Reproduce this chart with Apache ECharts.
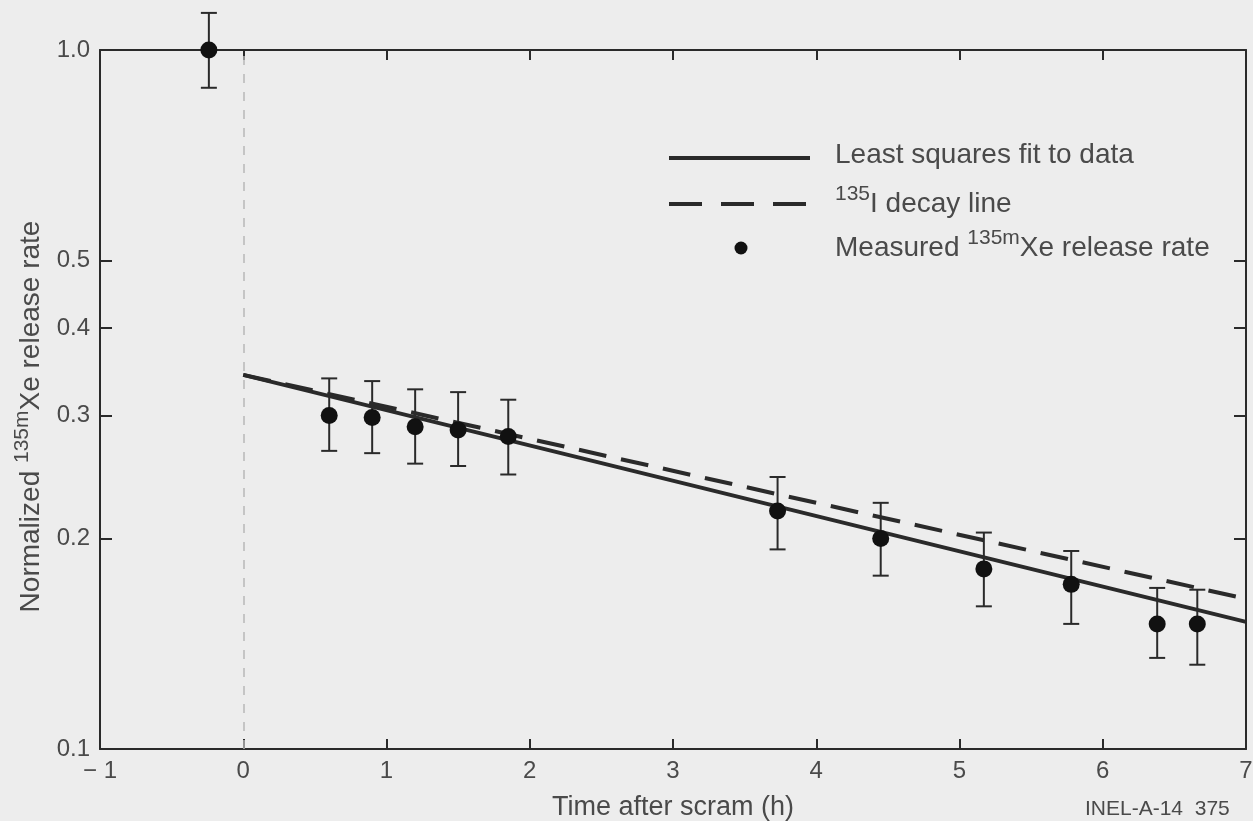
<!DOCTYPE html>
<html>
<head>
<meta charset="utf-8">
<script src="https://cdn.jsdelivr.net/npm/echarts@6/dist/echarts.min.js"></script>
<style>
  html, body { margin: 0; padding: 0; background: #ededed; }
  #main { width: 1253px; height: 821px; }
</style>
</head>
<body>
<div id="main"></div>
<script>
// measured release rate, time after scram (h)
const times = [-0.24, 0.6, 0.9, 1.2, 1.5, 1.85, 3.73, 4.45, 5.17, 5.78, 6.38, 6.66];
const rates = [1.0, 0.300, 0.298, 0.289, 0.286, 0.280, 0.219, 0.200, 0.181, 0.172, 0.151, 0.151];
const upper = [1.13, 0.339, 0.336, 0.327, 0.324, 0.316, 0.245, 0.225, 0.204, 0.192, 0.170, 0.169];
const lower = [0.883, 0.267, 0.265, 0.256, 0.254, 0.247, 0.193, 0.177, 0.160, 0.151, 0.135, 0.132];

// lines (end points)
const fitLine = [[0, 0.343], [7, 0.152]];
const decayLine = [[0, 0.343], [7, 0.164]];

const yTicks = [0.1, 0.2, 0.3, 0.4, 0.5, 1.0];
const yTicksRight = [0.2, 0.3, 0.4, 0.5];

const font = 'Liberation Sans, Arial, Helvetica, sans-serif';
const ink = '#2a2a2a';
const textCol = '#4a4a4a';

let myChart = echarts.init(document.getElementById('main'));

let points = times.map((t, i) => [t, rates[i]]);
let bars = times.map((t, i) => [t, lower[i], upper[i]]);

const supRich = (n, s) => ({
  n: { fontSize: n, color: textCol, fill: textCol, fontFamily: font, lineHeight: 34, verticalAlign: 'bottom' },
  s: { fontSize: s, color: textCol, fill: textCol, fontFamily: font, lineHeight: 34, verticalAlign: 'top' }
});

let option = {
  backgroundColor: '#ededed',
  animation: false,
  textStyle: { fontFamily: font },
  grid: { left: 100, top: 50, right: 7, bottom: 72, containLabel: false, outerBoundsMode: 'none' },
  xAxis: [
    {
      type: 'value', min: -1, max: 7, interval: 1,
      name: 'Time after scram (h)', nameLocation: 'middle', nameGap: 45,
      nameTextStyle: { fontSize: 27, color: textCol, fontFamily: font },
      axisLine: { onZero: false, lineStyle: { color: ink, width: 2 } },
      axisTick: { inside: true, length: 10, lineStyle: { color: ink, width: 2 } },
      axisLabel: {
        fontSize: 24, color: textCol, margin: 10,
        formatter: v => v < 0 ? '\u2212 ' + (-v) : String(v)
      },
      splitLine: { show: false }
    },
    {
      type: 'value', min: -1, max: 7, interval: 1, position: 'top',
      axisLine: { show: true, onZero: false, lineStyle: { color: ink, width: 2 } },
      axisTick: { show: true, inside: true, length: 10, lineStyle: { color: ink, width: 2 } },
      axisLabel: { show: false },
      splitLine: { show: false }
    }
  ],
  yAxis: [
    {
      type: 'log', logBase: 10, min: 0.1, max: 1,
      name: '{n|Normalized }{s|135m}{n|Xe release rate}',
      nameLocation: 'middle', nameGap: 50, nameRotate: 90,
      nameTextStyle: { color: textCol, padding: [0, 34, 0, 0], rich: supRich(28, 21) },
      axisLine: { show: true, onZero: false, lineStyle: { color: ink, width: 2 } },
      axisTick: { show: true, inside: true, length: 12, customValues: yTicks, lineStyle: { color: ink, width: 2 } },
      axisLabel: {
        fontSize: 24, color: textCol, margin: 10, customValues: yTicks,
        formatter: v => Number(v).toFixed(1)
      },
      splitLine: { show: false }
    },
    {
      type: 'log', logBase: 10, min: 0.1, max: 1, position: 'right',
      axisLine: { show: true, onZero: false, lineStyle: { color: ink, width: 2 } },
      axisTick: { show: true, inside: true, length: 12, customValues: yTicksRight, lineStyle: { color: ink, width: 2 } },
      axisLabel: { show: false },
      splitLine: { show: false }
    }
  ],
  series: [
    {
      name: 'Least squares fit to data',
      type: 'line', data: fitLine, symbol: 'none',
      lineStyle: { color: ink, width: 4 },
      markLine: {
        silent: true, symbol: 'none', label: { show: false },
        lineStyle: { color: '#b8b8b8', type: [9, 9], width: 1.5 },
        data: [{ xAxis: 0 }]
      }
    },
    {
      name: '135I decay line',
      type: 'line', data: decayLine, symbol: 'none',
      lineStyle: { color: ink, width: 4, type: [28, 15] }
    },
    {
      name: 'error',
      type: 'custom', data: bars, clip: false,
      renderItem: (params, api) => {
        const x = api.value(0);
        const lo = api.coord([x, api.value(1)]);
        const hi = api.coord([x, api.value(2)]);
        const w = 8;
        const st = { stroke: ink, lineWidth: 2 };
        return {
          type: 'group',
          children: [
            { type: 'line', shape: { x1: lo[0], y1: lo[1], x2: hi[0], y2: hi[1] }, style: st },
            { type: 'line', shape: { x1: lo[0] - w, y1: lo[1], x2: lo[0] + w, y2: lo[1] }, style: st },
            { type: 'line', shape: { x1: hi[0] - w, y1: hi[1], x2: hi[0] + w, y2: hi[1] }, style: st }
          ]
        };
      },
      z: 3
    },
    {
      name: 'Measured release rate',
      type: 'scatter', data: points, clip: false,
      symbol: 'circle', symbolSize: 17,
      itemStyle: { color: '#111', opacity: 1 },
      z: 4
    }
  ],
  graphic: [
    { type: 'line', shape: { x1: 669, y1: 158, x2: 810, y2: 158 }, style: { stroke: ink, lineWidth: 4 } },
    { type: 'line', shape: { x1: 669, y1: 204, x2: 810, y2: 204 }, style: { stroke: ink, lineWidth: 4, lineDash: [33, 19] } },
    { type: 'circle', shape: { cx: 741, cy: 248, r: 6.5 }, style: { fill: '#111' } },
    {
      type: 'text', left: 835, top: 141,
      style: { text: 'Least squares fit to data', fontSize: 28, fill: textCol, fontFamily: font }
    },
    {
      type: 'text', left: 835, top: 184,
      style: { text: '{s|135}{n|I decay line}', fill: textCol, rich: supRich(28, 21) }
    },
    {
      type: 'text', left: 835, top: 228,
      style: { text: '{n|Measured }{s|135m}{n|Xe release rate}', fill: textCol, rich: supRich(28, 21) }
    },
    {
      type: 'text', left: 1085, top: 799,
      style: { text: 'INEL-A-14  375', fontSize: 21, fill: textCol, fontFamily: font }
    }
  ]
};
myChart.setOption(option);
</script>
</body>
</html>
